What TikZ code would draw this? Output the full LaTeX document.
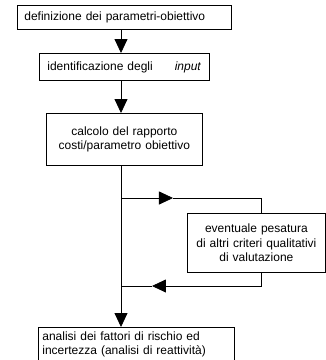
\documentclass[tikz,border=0pt]{standalone}
\usepackage{fontspec}
\setmainfont{Liberation Sans}
\usepackage{xcolor}
\usetikzlibrary{arrows.meta}
\tikzset{
  stepbox/.style={draw=black,line width=0.8pt,fill=white,anchor=north west,inner ysep=3pt,font=\fontsize{12pt}{14.5pt}\selectfont,text=black},
  flowarrow/.style={-{Triangle[length=14pt,width=13pt]},draw=black,line width=0.8pt},
  flowline/.style={draw=black,line width=0.8pt},
}

\begin{document}
\begin{tikzpicture}[x=1pt,y=-1pt]
        \useasboundingbox (0,0) rectangle (326,360);
        \clip (0,0) rectangle (326,360);
        \node[stepbox,inner xsep=7pt,text width=200pt,minimum height=24pt,align=left] (defin) at (17,5) {definizione dei parametri-obiettivo};
        \node[stepbox,inner xsep=8pt,text width=154pt,minimum height=27pt,align=left] (ident) at (39,53) {identificazione degli\hspace{22pt}\textit{input}};
        \node[stepbox,inner xsep=4pt,text width=148pt,minimum height=52pt,align=center] (calcolo) at (46,113) {calcolo del rapporto\\costi/parametro obiettivo};
        \node[stepbox,inner xsep=4pt,text width=130pt,minimum height=59pt,align=center] (pesatura) at (187,213) {eventuale pesatura\\di altri criteri qualitativi\\di valutazione};
        \node[stepbox,inner xsep=4pt,inner ysep=4pt,text width=188pt,align=left] (analisi) at (38,327) {analisi dei fattori di rischio ed\\incertezza (analisi di reattività)};
        \coordinate (spine) at (121,0);
        \coordinate (split1) at (121,198); \coordinate (mid1) at (173,198); \coordinate (turn1) at (261,198);
        \coordinate (mid2) at (152,286); \coordinate (join2) at (121,286);
        \draw[flowarrow] (defin.south -| spine)--(ident.north -| spine);
        \draw[flowarrow] (ident.south -| spine)--(calcolo.north -| spine);
        \draw[flowarrow] (calcolo.south -| spine)--(analisi.north -| spine);
        \draw[flowarrow] (split1)--(mid1); \draw[flowline] (mid1)--(turn1)--(pesatura.north -| turn1);
        \draw[flowarrow] (pesatura.south -| turn1) |- (mid2); \draw[flowline] (mid2)--(join2);
      \end{tikzpicture}
\end{document}
